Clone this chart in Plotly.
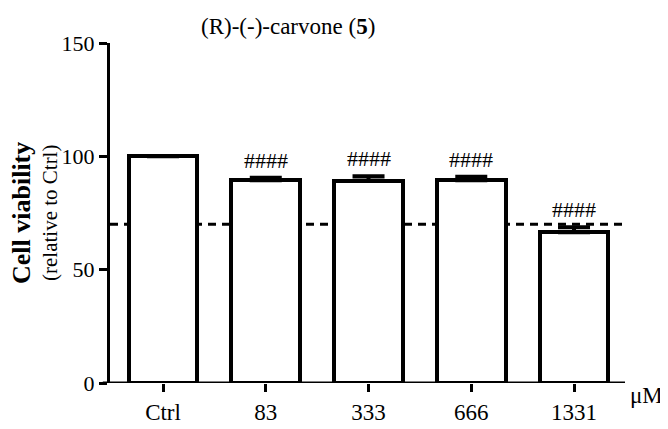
import plotly.graph_objects as go

categories = ["Ctrl", "83", "333", "666", "1331"]
viability = [100, 89.5, 89.2, 89.5, 66.5]
sem = [0, 1.0, 2.0, 1.5, 2.2]
significance = ["", "####", "####", "####", "####"]
threshold = 70
y_ticks = [0, 50, 100, 150]

FONT = "Liberation Serif, Times New Roman, serif"

fig = go.Figure()
fig.add_trace(go.Bar(
    x=list(range(len(categories))), y=viability,
    width=0.67,
    marker=dict(color="white", line=dict(color="black", width=4)),
    error_y=dict(type="data", symmetric=False, array=sem, arrayminus=[0]*len(sem),
                 color="black", thickness=4, width=16),
    showlegend=False, hoverinfo="skip",
))

fig.add_shape(type="line", xref="paper", x0=0, x1=1, yref="y", y0=threshold, y1=threshold,
              line=dict(color="black", width=3, dash="8px,6px"), layer="below")
fig.add_shape(type="line", xref="paper", x0=-0.014, x1=1, yref="y", y0=0, y1=0,
              line=dict(color="black", width=3), layer="above")

for i, s in enumerate(significance):
    if s:
        fig.add_annotation(x=i, y=viability[i] + sem[i], text=s, showarrow=False,
                           yanchor="bottom", yshift=3,
                           font=dict(family=FONT, size=22, color="black"))

fig.add_annotation(xref="paper", yref="paper", x=0.345, xanchor="center", y=1.0, yshift=31,
                   text="(R)-(-)-carvone (<b>5</b>)", showarrow=False,
                   font=dict(family=FONT, size=23, color="black"))
fig.add_annotation(xref="paper", yref="paper", x=1.0, xanchor="center", xshift=21, y=0, yshift=-27,
                   text="μM", showarrow=False,
                   font=dict(family=FONT, size=23, color="black"))
fig.add_annotation(xref="paper", yref="paper", x=0, xanchor="center", xshift=-89, y=0.5,
                   text="<b>Cell viability</b>", textangle=-90, showarrow=False,
                   font=dict(family=FONT, size=26, color="black"))
fig.add_annotation(xref="paper", yref="paper", x=0, xanchor="center", xshift=-60, y=0.5,
                   text="(relative to Ctrl)", textangle=-90, showarrow=False,
                   font=dict(family=FONT, size=21, color="black"))

fig.update_layout(
    width=668, height=429,
    margin=dict(l=102, r=51, t=35, b=54),
    plot_bgcolor="white", paper_bgcolor="white",
    font=dict(family=FONT, size=23, color="black"),
    bargap=0,
)
fig.update_xaxes(range=[-0.516, 4.496], tickmode="array",
                 tickvals=list(range(len(categories))), ticktext=categories,
                 ticks="outside", ticklen=8, tickwidth=3, tickcolor="black",
                 showline=False, showgrid=False, zeroline=False,
                 tickfont=dict(family=FONT, size=23))
fig.update_yaxes(range=[0, 150], tickvals=y_ticks,
                 ticks="outside", ticklen=8, tickwidth=3, tickcolor="black",
                 showline=True, linewidth=3, linecolor="black",
                 showgrid=False, zeroline=False,
                 tickfont=dict(family=FONT, size=22))

fig.write_html("out.html")
